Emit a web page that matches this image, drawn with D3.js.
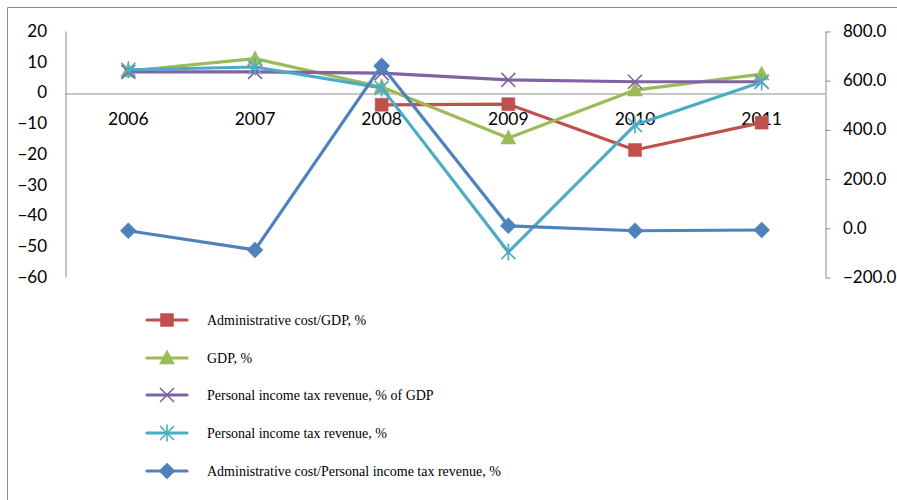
<!DOCTYPE html>
<html>
<head>
<meta charset="utf-8">
<script src="https://cdn.jsdelivr.net/npm/d3@7/dist/d3.min.js"></script>
<style>
  html, body { margin: 0; padding: 0; background: #fff; }
  svg { display: block; }
</style>
</head>
<body>
<svg id="chart" width="897" height="500"></svg>
<script>
// Years on the category axis
const years = ["2006", "2007", "2008", "2009", "2010", "2011"];

// Primary axis series (%)
const adminCostGdp = [null, null, -4.0, -3.8, -18.7, -9.8];
const gdp = [7.0, 11.0, 1.8, -14.8, 0.8, 6.0];
const pitShareGdp = [6.7, 6.7, 6.3, 4.1, 3.5, 3.5];
const pitRevenue = [7.4, 8.3, 1.5, -51.9, -10.6, 3.4];

// Secondary axis series (%)
const adminCostPit = [-12, -90, 659, 8, -12, -9];

// Axis ticks
const leftTicks = [20, 10, 0, -10, -20, -30, -40, -50, -60];
const rightTicks = [800, 600, 400, 200, 0, -200];

const seriesNames = [
  "Administrative cost/GDP, %",
  "GDP, %",
  "Personal income tax revenue, % of GDP",
  "Personal income tax revenue, %",
  "Administrative cost/Personal income tax revenue, %"
];
const seriesColors = ["#C0504D", "#9BBB59", "#8064A2", "#4BACC6", "#4F81BD"];
const seriesMarkers = ["square", "triangle", "x", "star", "diamond"];

const svg = d3.select("#chart");

// chart frame
svg.append("path")
  .attr("d", "M7.5,500 V7.5 H897")
  .attr("fill", "none")
  .attr("stroke", "#8c8c8c")
  .attr("stroke-width", 1);

const plot = { left: 65, right: 825, top: 31, bottom: 277 };

const x = d3.scaleBand().domain(years).range([plot.left, plot.right]).paddingInner(0).paddingOuter(0);
const xc = d => x(d) + x.bandwidth() / 2;
const yL = d3.scaleLinear().domain([-60, 20]).range([plot.bottom, plot.top]);
const yR = d3.scaleLinear().domain([-200, 800]).range([plot.bottom, plot.top]);

const axisColor = "#8c8c8c";
const sansFont = "Lato, 'Open Sans', sans-serif";

// left value axis
const leftAxis = svg.append("g")
  .attr("transform", `translate(${plot.left},0)`)
  .call(d3.axisLeft(yL).tickValues(leftTicks).tickSize(0).tickPadding(18).tickFormat(d3.format("d")));
leftAxis.select(".domain").attr("stroke", axisColor).attr("transform", "translate(0.5,0)");
leftAxis.selectAll("text").attr("font-family", sansFont).attr("font-size", 17).attr("fill", "#000");

// right value axis
const rightAxis = svg.append("g")
  .attr("transform", `translate(${plot.right},0)`)
  .call(d3.axisRight(yR).tickValues(rightTicks).tickSize(5).tickSizeOuter(0).tickPadding(13).tickFormat(d3.format(".1f")));
rightAxis.select(".domain").attr("stroke", axisColor).attr("transform", "translate(0.5,0)");
rightAxis.selectAll(".tick line").attr("stroke", axisColor).attr("transform", "translate(0.5,0.5)");
rightAxis.selectAll("text").attr("font-family", sansFont).attr("font-size", 17).attr("fill", "#000");

// category axis crossing at zero
const catAxis = svg.append("g")
  .attr("transform", `translate(0,${Math.round(yL(0)) + 0.5})`)
  .call(d3.axisBottom(x).tickSize(0).tickPadding(19));
catAxis.select(".domain").attr("stroke", axisColor);
catAxis.selectAll("text").attr("font-family", sansFont).attr("font-size", 17.5).attr("fill", "#000");

// marker shapes
function markerPath(type) {
  switch (type) {
    case "square": return "M-6.5,-6.5H6.5V6.5H-6.5Z";
    case "triangle": return "M0,-8L7.5,6H-7.5Z";
    case "diamond": return "M0,-8L8,0L0,8L-8,0Z";
    case "x": return "M-7,-7L7,7M-7,7L7,-7";
    case "star": return "M-7,-7L7,7M-7,7L7,-7M0,-8.5V8.5";
  }
}
function drawMarker(g, type, color, cx, cy) {
  const filled = type === "square" || type === "triangle" || type === "diamond";
  g.append("path")
    .attr("transform", `translate(${cx},${cy})`)
    .attr("d", markerPath(type))
    .attr("fill", filled ? color : "none")
    .attr("stroke", color)
    .attr("stroke-width", filled ? 0.5 : 1.6);
}

const allSeries = [
  { values: adminCostGdp, y: yL },
  { values: gdp, y: yL },
  { values: pitShareGdp, y: yL },
  { values: pitRevenue, y: yL },
  { values: adminCostPit, y: yR }
];

allSeries.forEach((s, i) => {
  const g = svg.append("g");
  const pts = years.map((yr, j) => ({ yr, v: s.values[j] })).filter(p => p.v !== null);
  const line = d3.line().x(p => xc(p.yr)).y(p => s.y(p.v));
  g.append("path")
    .attr("d", line(pts))
    .attr("fill", "none")
    .attr("stroke", seriesColors[i])
    .attr("stroke-width", 3.2)
    .attr("stroke-linejoin", "round");
  pts.forEach(p => drawMarker(g, seriesMarkers[i], seriesColors[i], xc(p.yr), s.y(p.v)));
});

// legend
const legend = svg.append("g");
const legendY = [320, 358, 395, 433, 471];
seriesNames.forEach((name, i) => {
  const g = legend.append("g").attr("transform", `translate(0,${legendY[i]})`);
  g.append("line")
    .attr("x1", 147).attr("x2", 187).attr("y1", 0).attr("y2", 0)
    .attr("stroke", seriesColors[i]).attr("stroke-width", 3.2).attr("stroke-linecap", "round");
  drawMarker(g, seriesMarkers[i], seriesColors[i], 167, 0);
  g.append("text")
    .attr("x", 207).attr("y", 5)
    .attr("font-family", "'Liberation Serif', 'Times New Roman', serif")
    .attr("font-size", 14)
    .attr("fill", "#000")
    .text(name);
});
</script>
</body>
</html>
